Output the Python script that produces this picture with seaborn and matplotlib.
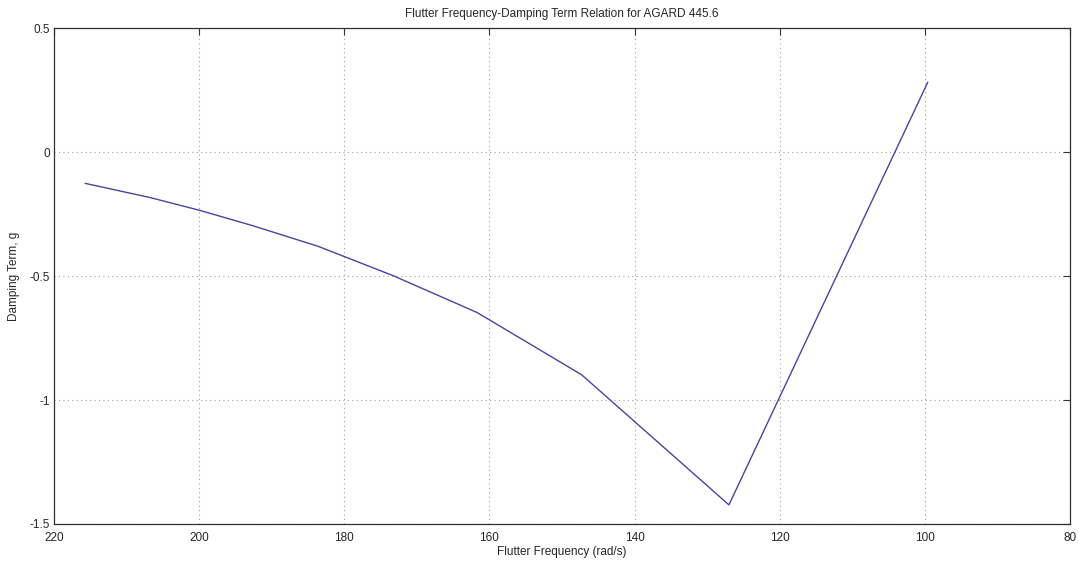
import matplotlib
matplotlib.use("Agg")
import matplotlib.pyplot as plt
import seaborn as sns
import pandas as pd

freq = [215.7, 206.8, 199.9, 192.7, 183.6, 173.3, 161.7, 147.3, 127.0, 99.6]
damping = [-0.126, -0.183, -0.235, -0.296, -0.38, -0.498, -0.647, -0.898, -1.423, 0.282]
xticks = [220, 200, 180, 160, 140, 120, 100, 80]
yticks = [0.5, 0, -0.5, -1, -1.5]
ytick_labels = ["0.5", "0", "-0.5", "-1", "-1.5"]

sns.set_style("white")
plt.rcParams['font.family'] = ['Liberation Sans', 'DejaVu Sans']

df = pd.DataFrame({"freq": freq, "damping": damping})
fig = plt.figure(figsize=(10.79, 5.63), dpi=100)
ax = fig.add_axes([0.05, 0.0693, 0.9417, 0.8807])
sns.lineplot(data=df, x="freq", y="damping", sort=False, color="#4646a0",
             linewidth=1.0, ax=ax)
ax.set_xlim(220, 80)
ax.set_ylim(-1.5, 0.5)
ax.set_xticks(xticks)
ax.set_xticklabels([str(t) for t in xticks])
ax.set_yticks(yticks)
ax.set_yticklabels(ytick_labels)
ax.grid(True, linestyle=(0, (1, 3)), color="#a0a0a0", linewidth=0.8)
ax.tick_params(direction="in", length=5, width=0.8, color="#333333",
               labelsize=8.5, top=True, right=True, pad=3)
ax.tick_params(axis="x", pad=6)
for s in ax.spines.values():
    s.set_color("#333333")
    s.set_linewidth(0.9)
ax.set_xlabel("Flutter Frequency (rad/s)", fontsize=8.5, labelpad=1)
ax.set_ylabel("Damping Term, g", fontsize=8.5, labelpad=7)
ax.set_title("Flutter Frequency-Damping Term Relation for AGARD 445.6", fontsize=8.5, pad=8)
fig.savefig("out.png", dpi=100)
